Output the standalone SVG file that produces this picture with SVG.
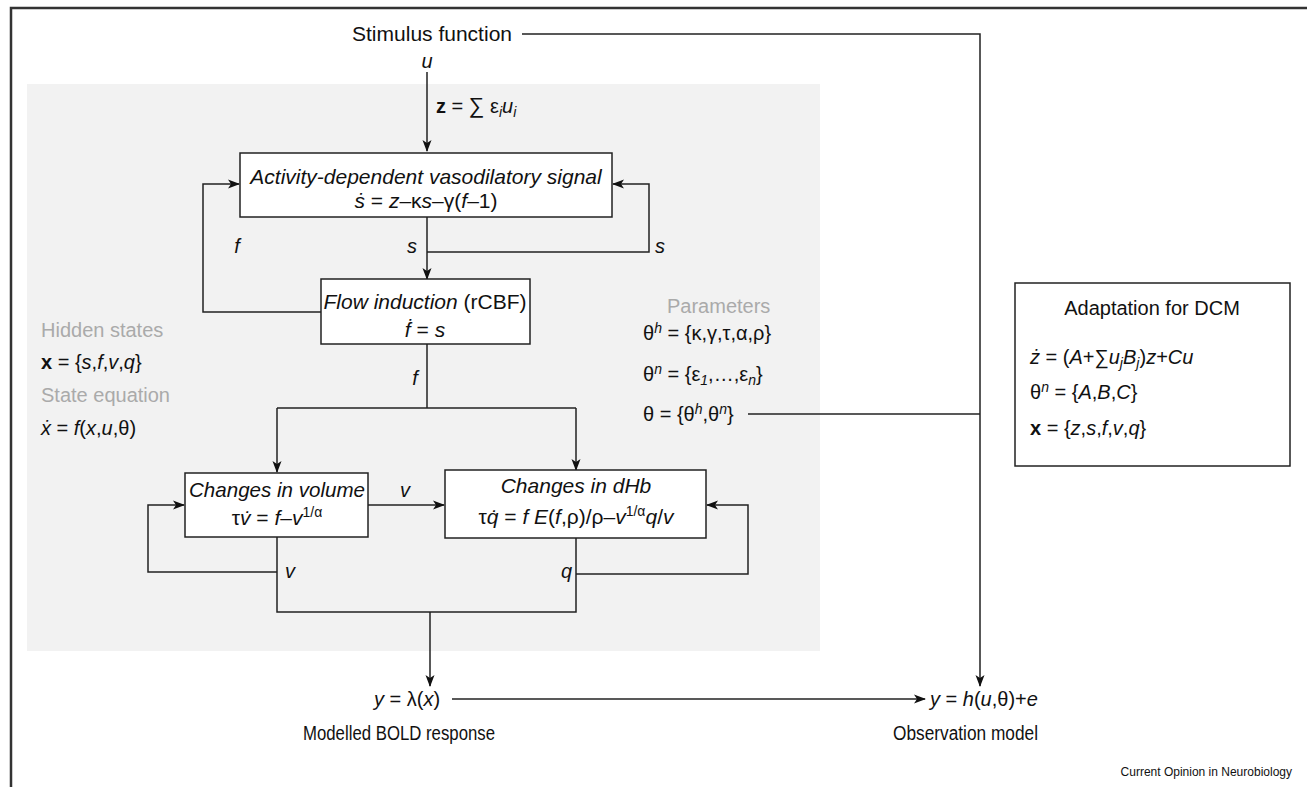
<svg xmlns="http://www.w3.org/2000/svg" width="1307" height="787" viewBox="0 0 1307 787">
<style>
text{font-family:"Liberation Sans",Arial,sans-serif;font-size:20px;fill:#111}
.i{font-style:italic}
.b{font-weight:bold}
.g{fill:#aaaaaa}
.c{text-anchor:middle}
.sm{font-size:14px}
.bx{font-size:21px}
.box{fill:#fff;stroke:#222;stroke-width:1.5}
.ln{fill:none;stroke:#222;stroke-width:1.5}
</style>
<defs>
<marker id="ah" markerWidth="12" markerHeight="10" refX="11" refY="5" orient="auto" markerUnits="userSpaceOnUse">
<path d="M0,0.5 L12,5 L0,9.5 L3,5 z" fill="#111"/>
</marker>
</defs>
<rect x="0" y="0" width="1307" height="787" fill="#fff"/>
<g id="frame">
<path d="M11,787 L11,8 L1307,8" fill="none" stroke="#333" stroke-width="2.5"/>
</g>
<rect id="panel" x="27" y="84" width="793" height="567" fill="#f2f2f2"/>

<g id="connectors">
<path class="ln" d="M522,34 L980,34 L980,686" marker-end="url(#ah)"/>
<path class="ln" d="M427,72 L427,151" marker-end="url(#ah)"/>
<path class="ln" d="M427,217 L427,279" marker-end="url(#ah)"/>
<path class="ln" d="M427,252 L649,252 L649,184 L613,184" marker-end="url(#ah)"/>
<path class="ln" d="M321,312 L203,312 L203,184 L239,184" marker-end="url(#ah)"/>
<path class="ln" d="M427,344 L427,408"/>
<path class="ln" d="M277,408 L576,408"/>
<path class="ln" d="M277,408 L277,472" marker-end="url(#ah)"/>
<path class="ln" d="M576,408 L576,470" marker-end="url(#ah)"/>
<path class="ln" d="M368,505 L444,505" marker-end="url(#ah)"/>
<path class="ln" d="M277,572 L148,572 L148,505 L184,505" marker-end="url(#ah)"/>
<path class="ln" d="M576,574 L748,574 L748,505 L707,505" marker-end="url(#ah)"/>
<path class="ln" d="M277,537 L277,612 L576,612 L576,538"/>
<path class="ln" d="M430,612 L430,686" marker-end="url(#ah)"/>
<path class="ln" d="M452,699 L925,699" marker-end="url(#ah)"/>
<path class="ln" d="M748,414 L980,414"/>
</g>

<g id="stimulus">
<text x="352" y="41" textLength="160" lengthAdjust="spacingAndGlyphs">Stimulus function</text>
<text x="427" y="68" class="i c">u</text>
<text x="436" y="113"><tspan class="b">z</tspan>  = <tspan style="font-size:22px">∑</tspan> ε<tspan class="i sm" dy="4">i</tspan><tspan class="i" dy="-4">u</tspan><tspan class="i sm" dy="4">i</tspan></text>
</g>

<g id="signal">
<rect class="box" x="240" y="153" width="372" height="64"/>
<text x="426" y="184" class="i c bx">Activity-dependent vasodilatory signal</text>
<text x="426" y="208" class="c bx"><tspan class="i">ṡ</tspan> = <tspan class="i">z</tspan>–κ<tspan class="i">s</tspan>–γ(<tspan class="i">f</tspan>–1)</text>
</g>

<g id="labels">
<text x="237" y="253" class="i c">f</text>
<text x="412" y="253" class="i c">s</text>
<text x="660" y="253" class="i c">s</text>
<text x="415" y="385" class="i c">f</text>
<text x="405" y="497" class="i c">v</text>
<text x="285" y="578" class="i">v</text>
<text x="572" y="578" class="i" text-anchor="end">q</text>
</g>

<g id="flow">
<rect class="box" x="321" y="279" width="209" height="65"/>
<text x="425" y="309" class="c bx"><tspan class="i">Flow induction</tspan> (rCBF)</text>
<text x="425" y="337" class="c bx"><tspan class="i">ḟ</tspan> = <tspan class="i">s</tspan></text>
</g>

<g id="volume">
<rect class="box" x="185" y="473" width="183" height="64"/>
<text x="277" y="497" class="i c bx" textLength="176" lengthAdjust="spacingAndGlyphs">Changes in volume</text>
<text x="277" y="525" class="c bx">τ<tspan class="i">v̇</tspan> = <tspan class="i">f</tspan>–<tspan class="i">v</tspan><tspan class="sm" dy="-8">1/α</tspan></text>
</g>

<g id="dhb">
<rect class="box" x="445" y="470" width="261" height="68"/>
<text x="576" y="493" class="i c bx">Changes in dHb</text>
<text x="576" y="524" class="c bx">τ<tspan class="i">q̇</tspan> = <tspan class="i">f E</tspan>(<tspan class="i">f</tspan>,ρ)/ρ–<tspan class="i">v</tspan><tspan class="sm" dy="-8">1/α</tspan><tspan class="i" dy="8">q</tspan>/<tspan class="i">v</tspan></text>
</g>

<g id="hidden">
<text x="41" y="337" class="g">Hidden states</text>
<text x="41" y="369"><tspan class="b">x</tspan> = {<tspan class="i">s</tspan>,<tspan class="i">f</tspan>,<tspan class="i">v</tspan>,<tspan class="i">q</tspan>}</text>
<text x="41" y="402" class="g">State equation</text>
<text x="41" y="435"><tspan class="i">ẋ</tspan> = <tspan class="i">f</tspan>(<tspan class="i">x</tspan>,<tspan class="i">u</tspan>,θ)</text>
</g>

<g id="parameters">
<text x="667" y="313" class="g">Parameters</text>
<text x="643" y="340">θ<tspan class="i sm" dy="-7">h</tspan><tspan dy="7"> = {κ,γ,τ,α,ρ}</tspan></text>
<text x="643" y="381">θ<tspan class="i sm" dy="-7">n</tspan><tspan dy="7"> = {ε</tspan><tspan class="i sm" dy="4">1</tspan><tspan dy="-4">,…,ε</tspan><tspan class="i sm" dy="4">n</tspan><tspan dy="-4">}</tspan></text>
<text x="643" y="421">θ = {θ<tspan class="i sm" dy="-7">h</tspan><tspan dy="7">,θ</tspan><tspan class="i sm" dy="-7">n</tspan><tspan dy="7">}</tspan></text>
</g>

<g id="dcm">
<rect class="box" x="1015" y="283" width="275" height="183"/>
<text x="1152" y="315" class="c">Adaptation for DCM</text>
<text x="1030" y="364"><tspan class="i">ż</tspan> = (<tspan class="i">A</tspan>+∑<tspan class="i">u</tspan><tspan class="i sm" dy="4">j</tspan><tspan class="i" dy="-4">B</tspan><tspan class="i sm" dy="4">j</tspan><tspan dy="-4">)</tspan><tspan class="i">z</tspan>+<tspan class="i">Cu</tspan></text>
<text x="1030" y="399">θ<tspan class="i sm" dy="-7">n</tspan><tspan dy="7"> = {</tspan><tspan class="i">A</tspan>,<tspan class="i">B</tspan>,<tspan class="i">C</tspan>}</text>
<text x="1030" y="435"><tspan class="b">x</tspan> = {<tspan class="i">z</tspan>,<tspan class="i">s</tspan>,<tspan class="i">f</tspan>,<tspan class="i">v</tspan>,<tspan class="i">q</tspan>}</text>
</g>

<g id="bold">
<text x="407" y="706" class="c"><tspan class="i">y</tspan> = λ(<tspan class="i">x</tspan>)</text>
<text x="303" y="740" textLength="192" lengthAdjust="spacingAndGlyphs">Modelled BOLD response</text>
</g>

<g id="observation">
<text x="930" y="706"><tspan class="i">y</tspan> = <tspan class="i">h</tspan>(<tspan class="i">u</tspan>,θ)+<tspan class="i">e</tspan></text>
<text x="893" y="740" textLength="145" lengthAdjust="spacingAndGlyphs">Observation model</text>
</g>

<text x="1292" y="776" text-anchor="end" style="font-size:12px">Current Opinion in Neurobiology</text>
</svg>
